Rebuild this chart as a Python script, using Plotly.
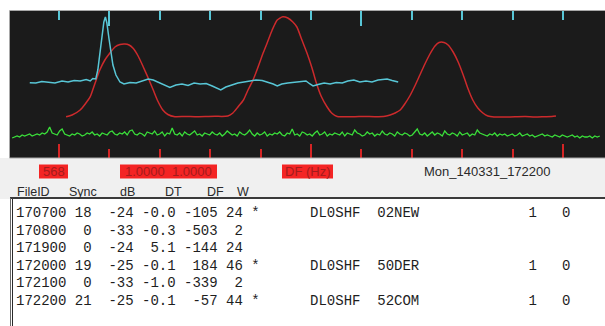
import plotly.graph_objects as go
import numpy as np

# ---------------- data ----------------
# cyan curve (frequency offset in Hz, amplitude)
cyan_hz = [-558, -546, -534, -522, -508, -494, -482, -470, -458, -446, -438, -433, -427, -423,
           -419, -415, -411, -408, -405, -401, -397, -393, -387, -379, -371, -359, -347, -335,
           -323, -313, -304, -292, -280, -268, -256, -244, -232, -220, -208, -196, -184, -179,
           -169, -157, -145, -133, -121, -109, -97, -85, -75, -67, -58, -46, -34, -22, -10, -2,
           4, 14, 26, 38, 50, 62, 73, 85, 97, 109, 121, 133, 145, 151, 161, 173]
cyan_amp = [75.3, 75, 76.5, 75.5, 75, 77, 76, 77.5, 77, 78.5, 77, 79.5, 79, 88,
            103, 120, 136, 141, 135, 120, 105, 93, 83, 76, 74, 75.5, 75, 77,
            79, 78, 76, 73, 70.5, 73, 74, 72.5, 75, 74, 74.5, 72, 69, 68,
            71, 73, 75, 76, 77, 78, 77.5, 76, 74, 72, 74, 75, 75.5, 76, 77, 74,
            72, 73.5, 75, 74, 75.5, 75, 77, 78, 76, 77, 76, 78, 78.5, 79, 77.5, 76]

# red curve
red_hz = [-486, -474, -458, -448, -438, -429, -419, -409, -399, -389, -379, -369, -361, -353,
          -343, -333, -323, -313, -304, -294, -284, -270, -250, -230, -210, -190, -177, -165,
          -155, -145, -134, -125, -115, -105, -95, -87, -77, -67, -56, -46, -36, -28, -18, -8,
          2, 10, 20, 32, 42, 52, 67, 87, 107, 127, 147,
          157, 167, 177, 186, 196, 206, 216, 226, 236, 246, 254, 264, 272, 282, 292, 302,
          311, 321, 331, 341, 351, 363, 385, 405, 425, 444, 464, 478, 486]
red_amp = [41.3, 43, 48, 54, 61.3, 74, 88, 98, 105, 111, 113.5, 114, 113, 109.7,
           102, 91.3, 80, 68, 57, 48, 43.5, 41.3, 41.5, 41.3, 41.5, 41.8, 41.5, 42,
           45, 51, 58, 68, 78, 91, 105, 115, 128, 138, 141.3, 140, 136, 131, 118, 105,
           90, 76, 62, 51, 44.5, 41.5, 41.3, 41.3, 41.5, 41.3, 41.8,
           43, 45, 48, 54, 62, 72, 83, 94, 104, 112, 115.5, 115.5, 113, 106, 96, 83,
           70, 58, 50, 45, 42, 41, 41, 41.2, 41.4, 41, 41.3, 41.5, 42]

green_amp = [
    20, 21, 22, 21, 23, 22, 23, 24, 22, 23,
    24, 23, 25, 24, 26, 31, 25, 24, 23, 27,
    29, 24, 23, 22, 24, 23, 25, 24, 22, 23,
    25, 24, 26, 23, 24, 22, 25, 24, 23, 26,
    27, 24, 23, 25, 24, 26, 23, 27, 28, 24,
    23, 25, 24, 22, 26, 25, 24, 27, 23, 24,
    26, 22, 25, 24, 30, 24, 23, 25, 22, 26,
    24, 23, 25, 27, 23, 24, 22, 25, 24, 23,
    26, 24, 23, 25, 22, 24, 27, 25, 23, 24,
    22, 26, 24, 23, 25, 28, 24, 22, 25, 23,
    24, 26, 22, 24, 23, 25, 24, 26, 23, 22,
    25, 24, 29, 23, 24, 22, 26, 25, 23, 24,
    22, 25, 27, 23, 24, 26, 22, 24, 23, 25,
    24, 23, 26, 22, 25, 24, 23, 28, 25, 24,
    22, 23, 26, 24, 25, 22, 24, 23, 27, 24,
    23, 25, 24, 22, 26, 24, 23, 25, 24, 22,
    23, 26, 29, 24, 23, 25, 22, 24, 26, 23,
    25, 24, 22, 27, 24, 23, 25, 24, 22, 26,
    23, 24, 25, 22, 24, 23, 28, 25, 24, 23,
    22, 24, 23, 25, 22, 24, 23, 24, 22, 23,
    24, 22, 23, 25, 22, 23, 24, 22, 23, 21,
    22, 23, 24, 22, 23, 22, 21, 23, 22, 21,
    23, 22, 21, 22, 23, 21, 22, 20, 22, 21,
    21, 22, 20, 22, 21, 22]
green_start_hz = -593
green_end_hz = 573

# header labels
label_fileid = "568"
label_ratio = "1.0000\u00a0\u00a01.0000"
label_df = "DF (Hz)"
label_time = "Mon_140331_172200"
col_headers = ["FileID", "Sync", "dB", "DT", "DF", "W"]

# decoded table
file_ids = ["170700", "170800", "171900", "172000", "172100", "172200"]
sync = [18, 0, 0, 19, 0, 21]
db = [-24, -33, -24, -25, -33, -25]
dt = [-0.0, -0.3, 5.1, -0.1, -1.0, -0.1]
df = [-105, -503, -144, 184, -339, -57]
width_w = [24, 2, 24, 46, 2, 44]
flags = ["*", "", "", "*", "", "*"]
calls = ["DL0SHF", "", "", "DL0SHF", "", "DL0SHF"]
grids = ["02NEW", "", "", "50DER", "", "52COM"]
count_a = [1, None, None, 1, None, 1]
count_b = [0, None, None, 0, None, 0]

# ---------------- layout helpers ----------------
W, H = 605, 326
def px(x):
    return x / W
def py(y):
    return 1 - y / H

PANEL_BG = "#1b1b1b"
CYAN = "#58c6d6"
RED = "#cc2a2c"
GREEN = "#3ade3a"
TICK_RED = "#d42424"
BOX_RED = "#f42424"

# x axis: Hz; 100 Hz = 50.4 px, 0 Hz at x = 311 px
hz_per_px = 100 / 50.4
x_range = [(10 - 311) * hz_per_px, (605 - 311) * hz_per_px]

fig = go.Figure()

green_hz = np.linspace(green_start_hz, green_end_hz, len(green_amp))
fig.add_trace(go.Scatter(x=green_hz, y=green_amp, mode="lines",
                         line=dict(color=GREEN, width=1.3), hoverinfo="skip"))
fig.add_trace(go.Scatter(x=red_hz, y=red_amp, mode="lines",
                         line=dict(color=RED, width=1.5, shape="spline", smoothing=0.6),
                         hoverinfo="skip"))
fig.add_trace(go.Scatter(x=cyan_hz, y=cyan_amp, mode="lines", xaxis="x2",
                         line=dict(color=CYAN, width=1.5), hoverinfo="skip"))

shapes = []
# grey strip below the panel
shapes.append(dict(type="rect", xref="paper", yref="paper", x0=0, x1=1,
                   y0=py(199), y1=py(158), fillcolor="#f0f0f0", line=dict(width=0), layer="below"))
# panel frame
shapes.append(dict(type="rect", xref="paper", yref="paper", x0=px(9.5), x1=px(610),
                   y0=py(158), y1=py(10.5), fillcolor="rgba(0,0,0,0)",
                   line=dict(color="#a8a8a8", width=1)))
# red label boxes
for (a, b) in [(39, 68), (120, 217), (282, 333)]:
    shapes.append(dict(type="rect", xref="paper", yref="paper", x0=px(a), x1=px(b),
                       y0=py(178.5), y1=py(164.5), fillcolor=BOX_RED, line=dict(width=0)))
# text box
shapes.append(dict(type="rect", xref="paper", yref="paper", x0=px(10), x1=px(610),
                   y0=py(330), y1=py(198), fillcolor="#ffffff", line=dict(width=0)))
shapes.append(dict(type="line", xref="paper", yref="paper", x0=px(10), x1=px(610),
                   y0=py(198), y1=py(198), line=dict(color="#3a3a3a", width=2)))
shapes.append(dict(type="line", xref="paper", yref="paper", x0=px(10.5), x1=px(10.5),
                   y0=py(330), y1=py(198), line=dict(color="#6a6a6a", width=1)))
shapes.append(dict(type="line", xref="paper", yref="paper", x0=px(12.5), x1=px(12.5),
                   y0=py(330), y1=py(199), line=dict(color="#2a2a2a", width=1)))

annotations = []
sans = "Liberation Sans, Arial, sans-serif"
annotations.append(dict(x=px(53.5), y=py(171.5), text=label_fileid))
annotations.append(dict(x=px(168.5), y=py(171.5), text=label_ratio))
annotations.append(dict(x=px(307.5), y=py(171.5), text=label_df))
for a in annotations:
    a.update(xref="paper", yref="paper", showarrow=False, xanchor="center", yanchor="middle",
             font=dict(family=sans, size=13, color="#a31c1c"))
annotations.append(dict(x=px(487.5), y=py(171.5), text=label_time, xref="paper", yref="paper",
                        showarrow=False, xanchor="center", yanchor="middle",
                        font=dict(family=sans, size=13, color="#2a2a2a")))
header_x = [15, 66.5, 118, 163, 205, 234.5]
for hx, ht in zip(header_x, col_headers):
    annotations.append(dict(x=px(hx), y=py(191.5), text=ht, xref="paper", yref="paper",
                            showarrow=False, xanchor="left", yanchor="middle",
                            font=dict(family=sans, size=12.5, color="#2a2a2a")))

for i in range(len(file_ids)):
    line = f"{file_ids[i]} {sync[i]:2d} {db[i]:4d} {dt[i]:4.1f} {df[i]:4d} {width_w[i]:2d}"
    if flags[i]:
        line += " " + flags[i] + " " * 6 + calls[i] + "  " + grids[i]
        line = line.ljust(61) + str(count_a[i]) + "   " + str(count_b[i])
    annotations.append(dict(x=px(13.5), y=py(213.3 + i * 17.5), text=line.replace(" ", "\u00a0"),
                            xref="paper", yref="paper", showarrow=False,
                            xanchor="left", yanchor="middle",
                            font=dict(family="Liberation Mono, Courier New, monospace",
                                      size=14, color="#1e1e1e")))

fig.update_layout(
    width=W, height=H, autosize=False,
    margin=dict(l=0, r=0, t=0, b=0, pad=0),
    paper_bgcolor="#ffffff", plot_bgcolor=PANEL_BG,
    showlegend=False,
    xaxis=dict(domain=[px(10), 1], range=x_range, showgrid=False, zeroline=False,
               showticklabels=False, showline=False,
               ticks="inside", tick0=0, dtick=500, ticklen=14, tickwidth=1.5, tickcolor=TICK_RED,
               minor=dict(ticks="inside", tick0=0, dtick=100, ticklen=9, tickwidth=1.5,
                          tickcolor=TICK_RED, showgrid=False),
               fixedrange=True),
    xaxis2=dict(overlaying="x", side="top", anchor="y", range=x_range, showgrid=False,
                zeroline=False, showticklabels=False, showline=False,
                ticks="inside", tick0=100, dtick=500, ticklen=15, tickwidth=1.5, tickcolor=CYAN,
                minor=dict(ticks="inside", tick0=0, dtick=100, ticklen=9, tickwidth=1.5,
                           tickcolor=CYAN, showgrid=False),
                fixedrange=True),
    yaxis=dict(domain=[py(158), py(11)], range=[0, 147], showgrid=False, zeroline=False,
               showticklabels=False, showline=False, ticks="", fixedrange=True),
    shapes=shapes,
    annotations=annotations,
)

fig.write_html("out.html", config={"displayModeBar": False},
               post_script="document.body.style.margin='0';document.body.style.overflow='hidden';")
